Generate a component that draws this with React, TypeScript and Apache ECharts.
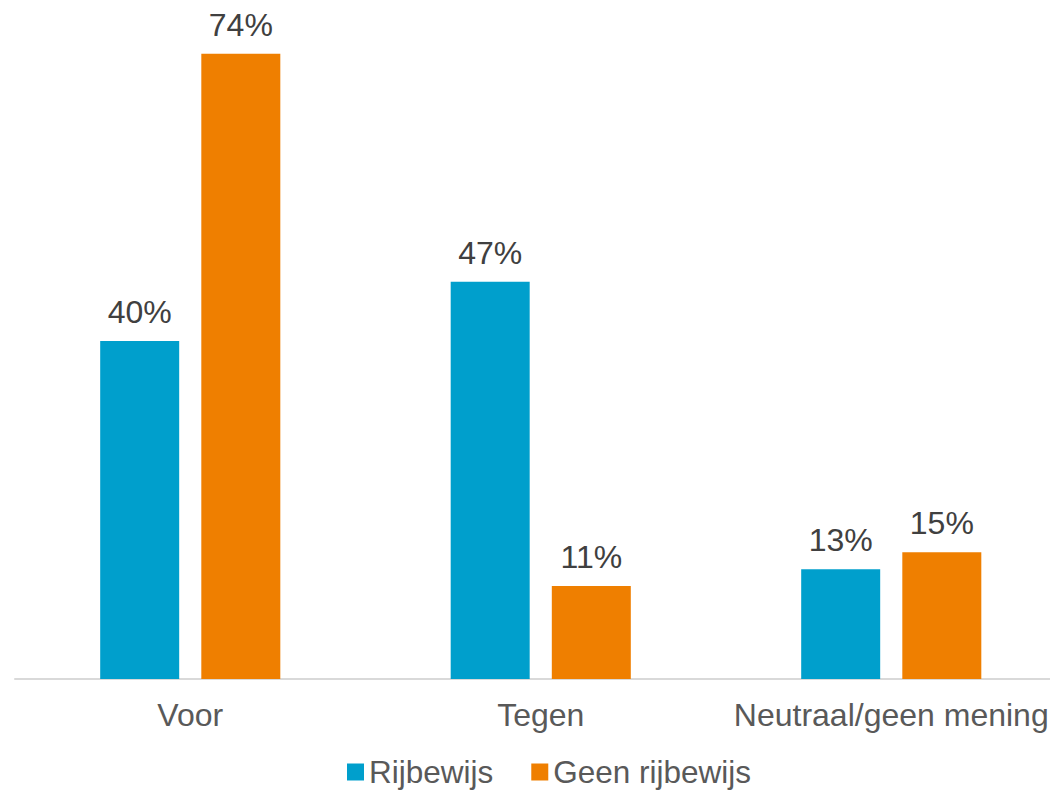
import React, { useEffect, useRef } from "react";
import * as echarts from "echarts";

const categories = ["Voor", "Tegen", "Neutraal/geen mening"];
const seriesNames = ["Rijbewijs", "Geen rijbewijs"];
const rijbewijs = [40, 47, 13];
const geenRijbewijs = [74, 11, 15];

const FONT = "'Liberation Sans', Arial, sans-serif";

export default function App() {
  const ref = useRef<HTMLDivElement>(null);
  useEffect(() => {
    document.body.style.margin = "0";
    const chart = echarts.init(ref.current!, null, { renderer: "svg" });
    const label = {
      show: true,
      position: "top",
      distance: 13,
      formatter: "{c}%",
      color: "#404040",
      fontSize: 32,
      fontFamily: FONT,
    };
    chart.setOption({
      animation: false,
      textStyle: { fontFamily: FONT },
      grid: { left: 15, width: 1051.5, top: 3, height: 676, containLabel: false },
      legend: {
        data: seriesNames,
        top: 751,
        left: 342,
        itemWidth: 17,
        itemHeight: 17,
        itemGap: 38,
        icon: "rect",
        textStyle: { color: "#595959", fontSize: 31.5, fontFamily: FONT },
      },
      xAxis: {
        type: "category",
        data: categories,
        axisLine: { lineStyle: { color: "#D9D9D9", width: 2 } },
        axisTick: { show: false },
        axisLabel: { color: "#595959", fontSize: 32, fontFamily: FONT, margin: 20, interval: 0 },
      },
      yAxis: {
        type: "value",
        min: 0,
        max: 80,
        show: false,
        splitLine: { show: false },
      },
      series: [
        {
          name: seriesNames[0],
          type: "bar",
          data: rijbewijs,
          barWidth: 79,
          barGap: "28%",
          itemStyle: { color: "#009FCC" },
          label,
        },
        {
          name: seriesNames[1],
          type: "bar",
          data: geenRijbewijs,
          barWidth: 79,
          barGap: "28%",
          itemStyle: { color: "#EF7F00" },
          label,
        },
      ],
    });
    return () => chart.dispose();
  }, []);
  return (
    <div style={{ width: 1050, height: 793, overflow: "hidden" }}>
      <div ref={ref} style={{ width: 1080, height: 793 }} />
    </div>
  );
}
